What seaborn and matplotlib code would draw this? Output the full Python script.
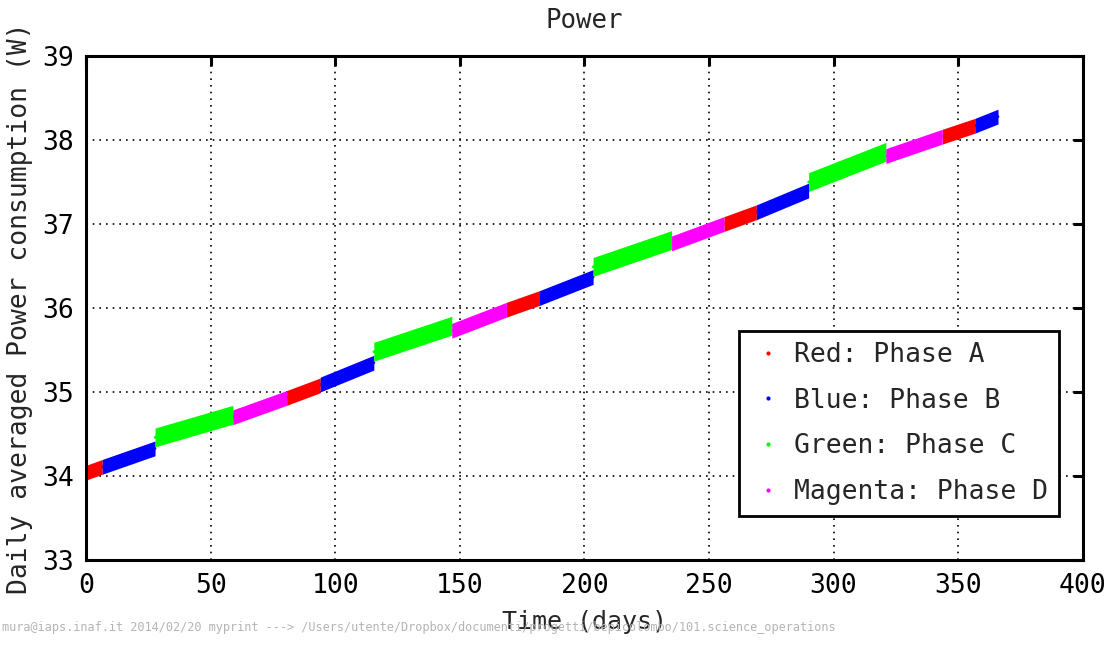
import matplotlib

matplotlib.use("Agg")

import matplotlib.pyplot as plt
import numpy as np
import pandas as pd
import seaborn as sns
from matplotlib.lines import Line2D

# segment data (days, watts): start / end of each phase run
seg_phase = ["A", "B", "C", "D"] * 4 + ["A", "B"]
seg_days = [
    [0, 6.5], [6.5, 27.7], [27.7, 58.9], [58.9, 80.5],
    [80.5, 94], [94, 115.5], [115.5, 146.8], [146.8, 168.7],
    [168.7, 182], [182, 203.5], [203.5, 235], [235, 256],
    [256, 269], [269, 290], [290, 321], [321, 343.6],
    [343.6, 356.7], [356.7, 366],
]
seg_power = [
    [34.04, 34.11], [34.11, 34.33], [34.46, 34.73], [34.70, 34.93],
    [34.93, 35.08], [35.09, 35.35], [35.48, 35.79], [35.73, 35.98],
    [35.98, 36.12], [36.12, 36.37], [36.49, 36.81], [36.77, 37.00],
    [37.00, 37.14], [37.14, 37.40], [37.50, 37.86], [37.81, 38.04],
    [38.04, 38.17], [38.17, 38.28],
]

phase_colors = {"A": "#ff0000", "B": "#0000ff", "C": "#00ff00", "D": "#ff00ff"}
phase_labels = {
    "A": "Red: Phase A",
    "B": "Blue: Phase B",
    "C": "Green: Phase C",
    "D": "Magenta: Phase D",
}
# half height of the scatter band, in watts
band_half = {"A": 0.088, "B": 0.088, "C": 0.112, "D": 0.088}

x_ticks = [0, 50, 100, 150, 200, 250, 300, 350, 400]
y_ticks = [33, 34, 35, 36, 37, 38, 39]

footer = ("mura@iaps.inaf.it 2014/02/20 myprint ---> /Users/utente/Dropbox/"
          "documenti/progetti/bepicolombo/101.science_operations")

rows = []
for i, (ph, days, pw) in enumerate(zip(seg_phase, seg_days, seg_power)):
    for d, p in zip(days, pw):
        rows.append({"day": d, "power": p, "phase": ph, "segment": i})
df = pd.DataFrame(rows)

sns.set_theme(style="white")
plt.rcParams["font.family"] = ["DejaVu Sans Mono", "DejaVu Sans"]

fig = plt.figure(figsize=(11.13, 6.49), dpi=100)
ax = fig.add_axes([0.0773, 0.137, 0.8955, 0.7766])

sns.lineplot(data=df, x="day", y="power", hue="phase", units="segment",
             estimator=None, palette=phase_colors, linewidth=2,
             legend=False, ax=ax, sort=False)
# thicken each run into a band with vertical ends, like the dense daily dots
for (ph, seg), g in df.groupby(["phase", "segment"]):
    y = g["power"].to_numpy()
    ax.fill_between(g["day"], y - band_half[ph], y + band_half[ph],
                    color=phase_colors[ph], linewidth=0, zorder=2)

ax.set_xlim(0, 400)
ax.set_ylim(33, 39)
ax.set_xticks(x_ticks)
ax.set_yticks(y_ticks)
ax.grid(True, color="black", linestyle=(0, (1, 3)), linewidth=1.2)
ax.set_axisbelow(True)
for sp in ax.spines.values():
    sp.set_visible(True)
    sp.set_color("black")
    sp.set_linewidth(2.2)
ax.tick_params(direction="in", length=7, width=2.2, colors="black",
               top=True, right=True, labelsize=19, pad=9)

ax.set_title("Power", fontsize=18.5, pad=20)
ax.set_xlabel("Time (days)", fontsize=18, labelpad=8)
ax.set_ylabel("Daily averaged Power consumption (W)", fontsize=19, labelpad=6)

handles = [Line2D([], [], color=phase_colors[p], marker=".", linestyle="none",
                  markersize=4) for p in ["A", "B", "C", "D"]]
leg = ax.legend(handles, [phase_labels[p] for p in ["A", "B", "C", "D"]],
                loc="lower right", bbox_to_anchor=(0.976, 0.088), fontsize=19,
                frameon=True, fancybox=False, framealpha=1, edgecolor="black",
                labelspacing=0.75, handletextpad=0.3, handlelength=1.4,
                borderpad=0.4, borderaxespad=0)
leg.get_frame().set_linewidth(2)

fig.text(0.002, 0.028, footer, fontsize=8.6, color="#b4b4b4",
         family="DejaVu Sans Mono", zorder=0)

fig.savefig("out.png", dpi=100)
